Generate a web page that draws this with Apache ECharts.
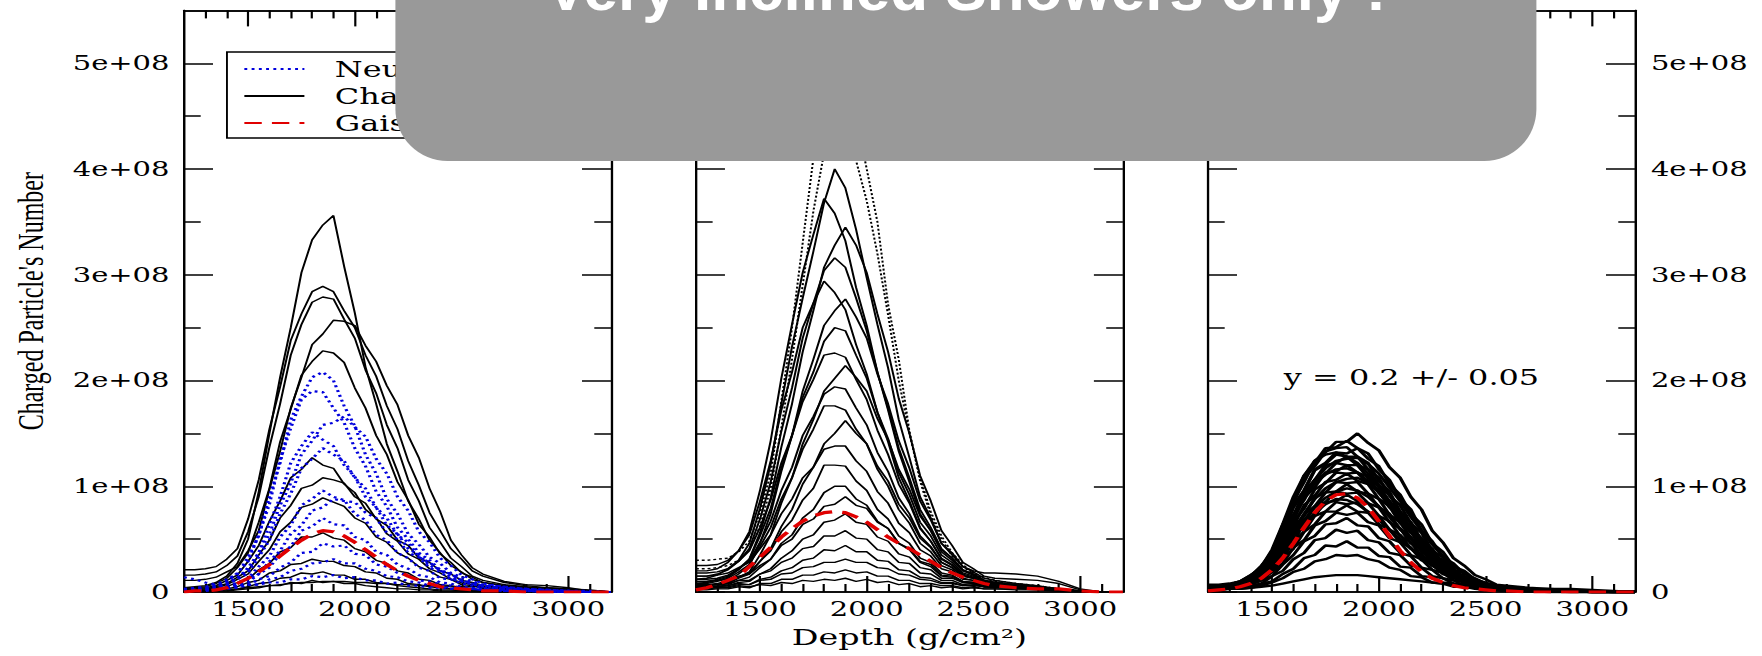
<!DOCTYPE html>
<html><head><meta charset="utf-8">
<script src="https://cdn.jsdelivr.net/npm/echarts@6/dist/echarts.min.js"></script>
<style>
html,body{margin:0;padding:0;background:#fff;overflow:hidden;width:1762px;height:656px;}
#plot{position:absolute;left:0;top:0;width:1215px;height:656px;transform-origin:0 0;transform:scaleX(1.450206);}
#overlay{position:absolute;left:0;top:0;width:1762px;height:656px;pointer-events:none;}
</style></head><body>
<div id="plot"></div><div id="overlay"></div>
<script>
// Depth grid (g/cm^2)
const DEPTH = [1200,1250,1300,1350,1400,1450,1500,1550,1600,1650,1700,1750,1800,1850,1900,1950,2000,2050,2100,2150,2200,2250,2300,2350,2400,2450,2500,2550,2600,2700,2800,2900,3000,3100,3200];
const UNIT = 1e6; // values below are in millions of particles

// Panel 1: charged (black) curves
const P1_CHARGED = [
 [4,5,6,9,15,27,50,95,150,203,250,302,333,347,356,308,264,213,178,140,114,86,69,49,37,25,19,12,9,6,4,3,2,1,0],
 [21,21,22,24,31,41,69,106,154,194,238,263,284,289,284,266,250,224,204,176,154,124,101,75,58,41,31,20,15,9,6,4,3,2,0],
 [16,16,17,19,25,34,57,90,137,178,224,253,274,279,277,258,240,210,188,158,136,106,86,61,47,32,24,15,11,7,5,3,2,1,0],
 [11,11,12,14,19,24,39,58,97,133,174,203,234,244,257,256,252,233,218,195,177,148,127,98,76,49,35,23,17,10,7,6,4,1,0],
 [3,4,5,8,13,23,37,66,98,142,173,205,218,228,226,217,193,174,148,130,104,87,64,52,36,28,18,14,9,6,4,3,2,1,0],
 [2,3,4,6,11,16,29,44,67,86,108,116,127,120,117,102,94,78,70,55,48,36,31,22,18,12,9,7,5,3,2,2,1,1,0],
 [2,2,3,5,8,14,20,35,49,70,82,98,101,108,106,103,90,84,69,63,49,44,32,28,20,17,11,9,6,4,3,2,1,1,0],
 [1,2,3,4,7,12,17,29,40,57,66,80,83,89,85,81,70,65,52,47,37,32,24,20,14,12,7,6,4,3,2,1,1,0,0],
 [1,1,2,3,5,9,12,21,27,38,42,52,52,56,51,49,41,38,30,27,20,18,12,11,7,6,4,3,2,2,1,1,0,0,0],
 [1,1,1,2,3,5,9,11,18,20,26,27,31,29,29,25,24,19,18,13,12,8,7,5,4,3,2,2,1,1,1,0,0,0,0],
 [0,1,1,1,2,3,5,8,9,13,14,18,17,19,16,16,12,12,9,8,6,5,4,3,2,2,1,1,1,1,0,0,0,0,0],
 [0,0,1,1,1,2,3,4,6,6,9,8,11,9,10,8,8,6,5,4,3,3,2,2,1,1,1,1,0,0,0,0,0,0,0],
 [1,1,1,2,2,3,4,5,6,7,8,9,9,10,10,10,9,9,8,8,7,7,6,6,6,5,5,5,5,5,4,4,3,1,0]
];
// Panel 1: neutral (blue dotted) curves
const P1_NEUTRAL = [
 [3,4,5,7,12,17,33,53,90,122,163,185,203,208,200,176,157,130,112,88,74,55,45,33,27,18,14,10,7,5,3,2,1,1,0],
 [2,3,4,6,10,18,29,54,83,125,155,182,190,189,174,160,136,119,95,81,61,50,37,30,21,17,11,8,6,4,3,2,1,0,0],
 [2,2,3,5,8,14,21,37,55,82,103,130,143,158,160,166,156,147,126,112,90,77,57,47,32,25,16,12,8,5,3,2,1,0,0],
 [2,3,4,5,9,12,23,37,64,90,122,138,151,144,138,120,109,90,80,63,55,41,35,25,21,14,11,8,6,4,2,1,1,0,0],
 [1,2,3,4,7,12,18,33,49,74,93,117,126,136,130,124,108,98,80,70,54,47,33,28,20,17,11,8,6,4,2,1,1,0,0],
 [1,2,2,3,5,9,13,24,34,52,63,82,88,96,90,87,74,68,54,49,37,32,23,20,13,12,8,6,4,3,2,1,0,0,0],
 [1,1,2,3,4,7,12,17,29,39,55,63,77,80,88,86,85,75,70,56,50,37,33,23,19,12,10,7,5,3,2,1,1,0,0],
 [1,1,2,2,4,7,9,17,23,36,43,58,62,70,64,63,52,49,38,35,26,22,16,14,9,8,5,4,3,2,1,1,0,0,0],
 [1,1,1,2,3,5,6,12,15,23,28,37,38,46,43,44,36,35,26,24,18,16,11,10,7,6,4,3,2,1,1,0,0,0,0],
 [2,2,2,3,3,4,7,7,12,14,20,22,27,28,31,27,27,22,20,15,14,10,9,6,5,4,3,3,2,1,1,0,0,0,0],
 [14,12,9,7,6,6,7,7,9,9,12,12,15,14,16,13,14,11,11,8,9,6,6,4,4,3,3,3,2,2,1,1,0,0,0]
];
const P1_GAISSER = [0,1,1,2,4,8,13,19,26,34,42,49,55,58,57,53,47,40,33,26,20,15,11,8,5,4,3,2,1,1,0,0,0,0,0];

// Panel 2: charged (solid) curves
const P2_CHARGED = [
 [12,13,16,22,30,46,79,121,178,232,278,322,368,400,382,343,297,253,212,163,127,90,70,46,35,24,19,13,11,8,6,3,1,0,0],
 [20,20,22,28,39,57,96,143,202,253,302,338,372,358,332,288,252,208,172,133,104,74,58,38,30,20,16,11,9,7,5,3,1,0,0],
 [8,9,11,14,21,31,56,89,137,178,227,266,307,328,345,328,302,263,227,183,150,110,86,58,44,28,22,15,13,12,11,8,2,0,0],
 [15,15,17,21,29,41,69,104,152,193,240,273,304,316,307,278,247,208,174,136,108,78,61,41,32,21,17,11,9,7,5,3,1,0,0],
 [25,25,26,30,39,54,86,124,172,208,250,273,294,283,267,234,206,170,142,108,86,61,48,31,25,16,13,8,7,5,4,2,1,0,0],
 [6,7,8,11,17,25,46,74,114,148,190,220,252,266,277,260,240,206,178,143,117,86,68,46,37,24,20,18,18,17,15,10,3,0,0],
 [10,10,12,15,22,31,53,79,117,148,184,208,237,250,247,224,202,170,145,113,92,66,53,35,28,18,15,10,8,6,4,2,1,0,0],
 [18,18,19,22,29,39,61,87,122,148,180,201,224,226,222,201,182,153,130,102,84,60,48,32,26,17,14,9,8,6,4,2,1,0,0],
 [5,6,7,9,14,19,35,54,84,108,140,163,190,202,214,203,190,164,144,116,97,72,58,40,32,21,17,11,9,7,5,3,1,0,0],
 [12,12,13,16,22,29,47,67,96,118,148,166,187,194,192,174,158,132,114,89,74,53,43,28,23,15,13,8,7,5,4,2,1,0,0],
 [8,8,10,13,19,26,43,61,88,108,135,154,176,176,172,154,140,116,100,78,65,46,38,25,21,13,11,7,6,5,3,2,1,0,0],
 [4,5,6,8,13,17,29,41,62,78,102,118,140,150,162,150,140,119,105,83,70,51,42,28,23,15,13,8,7,5,4,2,1,0,0],
 [15,15,16,18,23,28,41,54,74,88,108,118,135,138,138,124,114,95,84,65,56,40,34,22,19,12,11,7,6,5,4,2,1,0,0],
 [6,6,7,9,14,18,29,39,57,68,87,98,120,120,119,105,96,78,69,53,46,32,28,18,16,10,9,5,5,4,3,2,1,0,0],
 [3,4,5,7,11,14,23,31,46,54,70,78,94,100,100,88,82,67,60,46,40,28,24,15,14,9,8,5,5,4,3,2,1,0,0],
 [10,10,11,12,15,17,25,31,44,50,64,69,81,83,90,82,79,66,60,46,41,29,26,16,15,10,9,6,6,5,4,2,1,0,0],
 [4,4,5,6,9,10,17,22,32,39,50,54,66,68,74,66,64,52,48,36,33,23,21,13,13,9,9,6,6,5,4,2,1,0,0],
 [7,7,7,8,11,11,17,20,28,32,41,43,53,53,58,51,50,40,38,28,27,18,17,11,11,7,8,5,5,4,3,2,1,0,0],
 [3,3,4,5,7,7,12,14,20,23,30,32,40,39,44,38,38,30,29,21,20,14,13,9,9,6,7,5,5,4,3,2,1,0,0],
 [5,5,5,6,8,7,11,12,17,18,23,24,28,28,31,28,28,23,22,17,16,12,11,8,8,6,6,5,4,4,3,2,1,0,0],
 [2,2,3,3,5,4,8,8,12,12,16,16,19,18,21,18,19,15,15,11,11,8,8,6,6,4,5,3,3,3,2,1,1,0,0],
 [4,4,4,4,6,5,7,6,9,8,11,10,12,11,13,10,12,9,10,7,8,5,6,4,5,3,4,3,3,2,2,1,0,0,0]
];
// Panel 2: outer (dotted) curves
const P2_DOTTED = [
 [30,30,31,32,38,48,75,112,180,250,330,410,470,490,480,450,400,350,272,220,152,105,72,50,34,24,17,13,10,7,5,3,1,0,0],
 [22,22,23,25,30,40,62,98,155,220,290,360,415,440,432,408,370,320,262,200,150,108,76,53,37,26,18,14,11,8,6,3,1,0,0]
];
const P2_GAISSER = [2,4,7,11,15,24,33,42,52,60,67,72,75,76,75,71,66,59,52,46,41,35,29,23,18,14,11,8,6,4,3,3,1,0,0];

// Panel 3: charged curves (y = 0.2 +/- 0.05)
const P3_CHARGED = [
 [5,6,7,10,16,23,39,58,86,104,124,132,142,142,150,141,134,118,108,90,78,58,47,32,25,16,12,7,6,4,3,2,1,0,0],
 [6,6,7,10,15,25,37,63,86,110,122,136,137,143,136,131,116,106,88,78,58,48,33,27,17,13,8,6,4,3,2,2,1,0,0],
 [6,6,7,9,15,24,40,64,90,110,124,130,132,128,122,112,99,86,72,60,46,36,26,19,13,9,6,4,3,2,2,1,0,0,0],
 [5,5,6,9,14,24,37,63,84,108,119,133,136,137,128,122,105,95,76,65,48,40,26,21,13,11,7,5,4,3,2,1,1,0,0],
 [4,4,5,7,11,18,30,48,70,90,106,117,124,126,127,121,112,99,86,71,58,45,34,25,18,12,8,6,4,3,2,1,1,0,0],
 [4,4,5,8,13,20,35,54,80,96,116,122,132,131,136,126,119,102,92,74,64,46,38,24,20,12,9,6,4,3,2,1,1,0,0],
 [7,7,8,10,16,22,38,57,82,96,115,121,130,128,128,116,108,91,82,65,56,39,33,21,18,11,8,6,4,3,2,2,1,0,0],
 [5,5,6,8,12,21,32,53,72,95,106,120,122,128,120,116,101,92,75,66,49,41,27,22,14,11,7,5,4,3,2,1,1,0,0],
 [5,5,6,8,12,20,33,52,72,90,103,111,116,117,113,105,94,82,69,57,45,35,26,19,13,9,6,4,3,2,2,1,0,0,0],
 [4,4,5,7,11,18,32,49,73,87,106,112,122,120,120,108,101,85,76,59,51,36,30,19,15,9,7,5,4,3,2,1,0,0,0],
 [6,6,7,9,13,21,31,51,68,89,99,113,114,120,113,109,94,86,70,62,46,39,26,21,13,10,7,5,3,2,2,1,0,0,0],
 [4,4,5,7,10,16,26,41,58,74,88,98,104,107,108,103,95,84,72,60,48,37,28,20,14,10,7,5,3,2,2,1,0,0,0],
 [3,3,4,6,10,16,29,44,66,79,97,103,113,112,113,102,96,80,72,56,48,34,28,18,14,8,6,4,3,2,1,1,0,0,0],
 [5,5,6,8,12,19,28,47,62,82,91,104,106,112,105,102,88,81,65,57,42,36,23,19,12,9,6,4,3,2,2,1,0,0,0],
 [4,4,5,7,10,15,28,41,61,72,89,94,104,103,104,93,88,73,66,51,44,30,25,16,13,8,6,4,3,2,1,1,0,0,0],
 [5,5,6,7,10,16,25,39,54,68,80,89,95,98,96,90,81,71,60,50,40,31,23,17,12,8,6,4,3,2,1,1,0,0,0],
 [6,6,7,8,11,18,26,42,55,73,81,94,95,102,95,93,80,74,59,52,38,32,22,18,11,9,6,4,3,2,2,1,0,0,0],
 [3,3,4,6,9,14,25,37,55,65,81,85,95,93,94,84,80,66,60,46,40,28,23,15,12,7,5,4,3,2,1,1,0,0,0],
 [5,5,6,7,10,16,22,37,48,65,72,85,86,92,86,84,72,67,53,47,34,29,20,16,10,8,5,4,3,2,1,1,0,0,0],
 [4,4,5,6,9,14,23,36,50,63,75,83,88,87,83,76,68,59,50,41,33,25,19,14,10,7,5,3,2,2,1,1,0,0,0],
 [4,4,5,6,9,12,22,32,48,57,72,76,85,83,85,75,72,59,54,41,36,25,21,13,11,6,5,3,2,2,1,1,0,0,0],
 [3,3,4,5,8,13,19,32,41,57,64,76,76,82,76,75,64,59,47,42,30,26,17,14,8,7,4,3,2,2,1,0,0,0,0],
 [5,5,5,6,8,11,19,27,42,49,63,67,75,73,75,66,63,51,47,35,31,21,18,11,10,5,4,3,2,1,1,0,0,0,0],
 [3,3,4,5,7,11,15,26,35,48,53,64,65,70,63,62,51,48,37,34,23,21,13,11,6,6,3,2,2,1,1,0,0,0,0],
 [2,2,3,4,6,8,15,20,31,37,49,51,59,56,58,49,47,37,35,25,23,15,13,8,7,4,3,2,1,1,0,0,0,0,0],
 [3,3,3,4,5,8,10,17,22,32,35,44,43,48,42,42,34,33,24,23,15,14,9,8,4,4,2,2,1,1,0,0,0,0,0],
 [2,2,3,3,4,6,9,13,19,22,29,31,35,34,35,31,29,23,21,15,14,9,8,5,5,3,2,2,1,1,0,0,0,0,0],
 [3,3,3,3,4,5,6,8,10,12,14,15,16,16,16,15,14,13,12,11,10,9,8,7,6,5,5,4,4,3,3,3,2,1,0]
];
const P3_GAISSER = [1,2,3,5,8,13,21,32,46,61,75,86,92,93,89,80,67,53,39,28,19,13,9,6,4,3,2,1,1,0,0,0,0,0,0];

// Axis ticks
const X_MAJOR = [1500,2000,2500,3000];
const X_MINOR = [1300,1400,1600,1700,1800,1900,2100,2200,2300,2400,2600,2700,2800,2900,3100];
const Y_MAJOR = [0,1e8,2e8,3e8,4e8,5e8];
const Y_MINOR = [0.5e8,1.5e8,2.5e8,3.5e8,4.5e8];

const NAME_NEU = "Neutral Particles", NAME_CH = "Charged Particles", NAME_GH = "Gaisser-Hillas Fit";

const SERIF = 'DejaVu Serif';
const GRID_LEFT = [126.9, 479.9, 833.0];
const GRID_W = 294.4, GRID_TOP = 10.4, GRID_H = 581.6;

const grids = GRID_LEFT.map(l => ({left:l, top:GRID_TOP, width:GRID_W, height:GRID_H, containLabel:false}));

const AXLINE = {show:true, onZero:false, lineStyle:{color:'#000', width:1.5}};
function xAx(g, pos, vals, len, showLabels, extra){
  return Object.assign({type:'value', gridIndex:g, position:pos, min:1200, max:3200,
    axisLine:AXLINE,
    axisTick:{show:true, inside:true, length:len, customValues:vals, lineStyle:{color:'#000', width:1.5}},
    axisLabel:{show:showLabels, customValues:X_MAJOR, formatter:v => String(v), margin:7, color:'#000', fontFamily:SERIF, fontSize:20},
    splitLine:{show:false}}, extra||{});
}
function yFmt(v){ return v === 0 ? '0' : (Math.round(v/1e8)) + 'e+08'; }
function yAx(g, pos, vals, len, showLabels, margin, extra){
  return Object.assign({type:'value', gridIndex:g, position:pos, min:0, max:5.5e8,
    axisLine:AXLINE,
    axisTick:{show:true, inside:true, length:len, customValues:vals, lineStyle:{color:'#000', width:1.5}},
    axisLabel:{show:showLabels, customValues:Y_MAJOR, formatter:yFmt, margin:margin, color:'#000', fontFamily:SERIF, fontSize:20},
    splitLine:{show:false}}, extra||{});
}

const xAxes = [], yAxes = [];
for (let g = 0; g < 3; g++){
  xAxes.push(xAx(g,'bottom',X_MAJOR,16,true, g===1 ? {name:'Depth (g/cm\u00B2)', nameLocation:'middle', nameGap:33,
     nameTextStyle:{fontFamily:SERIF, fontSize:23, color:'#000'}} : {}));
  xAxes.push(xAx(g,'bottom',X_MINOR,8,false));
  xAxes.push(xAx(g,'top',X_MAJOR,16,false));
  xAxes.push(xAx(g,'top',X_MINOR,8,false));
  yAxes.push(yAx(g,'left',Y_MAJOR,20,g===0,10, g===0 ? {name:"Charged Particle's Number", nameLocation:'middle', nameGap:94,
     nameTextStyle:{fontFamily:'Liberation Serif', fontSize:24, color:'#000'}} : {}));
  yAxes.push(yAx(g,'left',Y_MINOR,11.5,false,10));
  yAxes.push(yAx(g,'right',Y_MAJOR,20,g===2,11));
  yAxes.push(yAx(g,'right',Y_MINOR,11.5,false,11));
}

function mk(panel, vals, name, lineStyle, z){
  return {type:'line', name:name, xAxisIndex:panel*4, yAxisIndex:panel*4,
    data: DEPTH.map((d,i) => [d, vals[i]*UNIT]),
    symbol:'none', showSymbol:false, silent:true, animation:false, z:z, lineStyle:lineStyle};
}
const BLACK = {color:'#000', width:1.4, type:'solid'};
const BLACK3 = {color:'#000', width:2.4, type:'solid'};
const BLUE = {color:'#0000dd', width:2.2, type:[2,3]};
const DOT = {color:'#000', width:1.4, type:[2,2]};
const RED = {color:'#e00000', width:3.2, type:[12,7]};

const series = [];
P1_CHARGED.forEach(v => series.push(mk(0, v, NAME_CH, BLACK, 2)));
P1_NEUTRAL.forEach(v => series.push(mk(0, v, NAME_NEU, BLUE, 3)));
series.push(mk(0, P1_GAISSER, NAME_GH, RED, 5));
P2_DOTTED.forEach(v => series.push(mk(1, v, NAME_CH, DOT, 2)));
P2_CHARGED.forEach(v => series.push(mk(1, v, NAME_CH, BLACK, 2)));
series.push(mk(1, P2_GAISSER, NAME_GH, RED, 5));
P3_CHARGED.forEach(v => series.push(mk(2, v, NAME_CH, BLACK3, 2)));
series.push(mk(2, P3_GAISSER, NAME_GH, RED, 5));

const plot = echarts.init(document.getElementById('plot'), null, {renderer:'svg'});
plot.setOption({
  animation:false,
  backgroundColor:'#fff',
  grid: grids,
  xAxis: xAxes,
  yAxis: yAxes,
  legend: {
    show:true, orient:'vertical', left:156.5, top:52,
    data:[{name:NAME_NEU},{name:NAME_CH},{name:NAME_GH}],
    itemWidth:41.4, itemHeight:14, itemGap:4,
    padding:[5.5,30,3.5,11],
    borderColor:'#000', borderWidth:1.3, borderRadius:0, backgroundColor:'#fff',
    selectedMode:false,
    itemStyle:{opacity:0},
    textStyle:{fontFamily:SERIF, fontSize:22, lineHeight:23, color:'#000', padding:[0,0,0,16]}
  },
  graphic: [
    {type:'text', x:973.3, y:377, silent:true,
     style:{text:'y = 0.2 +/- 0.05', fill:'#000', fontFamily:SERIF, fontSize:22, align:'center', verticalAlign:'middle'}}
  ],
  series: series
});

const overlay = echarts.init(document.getElementById('overlay'), null, {renderer:'canvas'});
overlay.setOption({
  animation:false,
  graphic: [
    {type:'rect', shape:{x:395.4, y:-80, width:1141, height:241, r:52}, style:{fill:'#999999'}, silent:true},
    {type:'text', x:966, y:-7.5, silent:true,
     style:{text:'Very Inclined Showers only !', fill:'#fff', fontFamily:'Liberation Sans', fontWeight:'bold', fontSize:62, align:'center', verticalAlign:'middle'}}
  ]
});
</script>
</body></html>
